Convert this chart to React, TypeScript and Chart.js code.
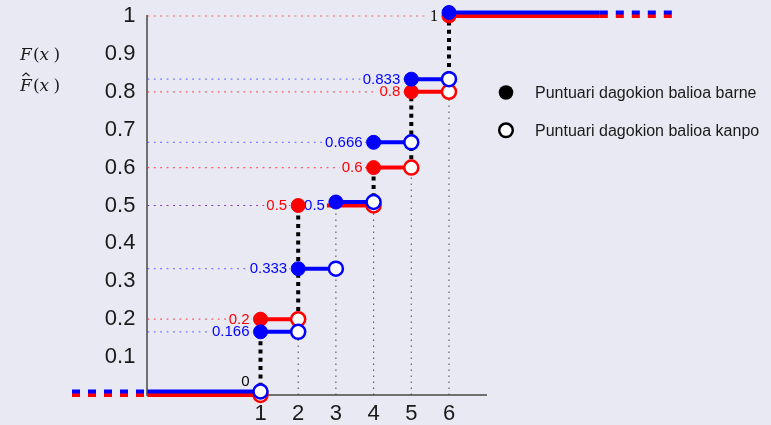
import React, { useEffect, useRef } from "react";
import { Chart, registerables } from "chart.js";

Chart.register(...registerables);

// ---------- data ----------
const xTicks = [1, 2, 3, 4, 5, 6];
const yTicks = [0.1, 0.2, 0.3, 0.4, 0.5, 0.6, 0.7, 0.8, 0.9, 1];

const redX = [1, 2, 4, 5, 6];
const redY = [0.2, 0.5, 0.6, 0.8, 1];
const redLabels = ["0.2", "0.5", "0.6", "0.8", "1"];

const blueX = [1, 2, 3, 4, 5, 6];
const blueY = [0.1667, 0.3333, 0.5, 0.6667, 0.8333, 1];
const blueLabels = ["0.166", "0.333", "0.5", "0.666", "0.833", "1"];

const startLabel = "0";
const legendLabels = ["Puntuari dagokion balioa barne", "Puntuari dagokion balioa kanpo"];
const fxParts = ["F", "(", "x", ")"];

const X_AXIS_MIN = -2;
const X_AXIS_MAX = 7;
const X_DASH_LEFT = -4;
const X_SOLID_RIGHT = 10;
const X_DASH_RIGHT = 12;

// ---------- style ----------
const BG = "rgb(233,233,243)";
const RED = "#ff0000";
const BLUE = "#0000ff";
const AXIS = "rgb(112,112,112)";
const TXT = "#1a1a1a";
const SANS = '"Liberation Sans", Arial, sans-serif';
const SERIF = '"Liberation Serif", "Times New Roman", serif';
const MATH = '"DejaVu Serif", serif';
const SHIFT = -3.5;

type Seg = [number, number, number, number];

const valAt = (xs: number[], ys: number[], x: number) => {
  let v = 0;
  xs.forEach((xx, i) => { if (xx <= x) v = ys[i]; });
  return v;
};
const leftAt = (xs: number[], ys: number[], x: number) => {
  let v = 0;
  xs.forEach((xx, i) => { if (xx < x) v = ys[i]; });
  return v;
};

function segsToData(segs: Seg[]) {
  const out: any[] = [];
  segs.slice().reverse().forEach((s, k) => {
    if (k > 0) out.push({ x: null, y: null });
    out.push({ x: s[0], y: s[1] }, { x: s[2], y: s[3] });
  });
  return out;
}

function stepSegs(xs: number[], ys: number[]): Seg[] {
  const segs: Seg[] = [[X_AXIS_MIN, 0, xs[0], 0]];
  for (let i = 0; i < xs.length; i++) {
    const xEnd = i < xs.length - 1 ? xs[i + 1] : X_SOLID_RIGHT;
    segs.push([xs[i], ys[i], xEnd, ys[i]]);
  }
  return segs;
}

function lineDs(label: string, segs: Seg[], color: string, width: number, dash: number[], yShift = 0) {
  return {
    label,
    data: segsToData(segs),
    borderColor: color,
    backgroundColor: color,
    borderWidth: width,
    borderDash: dash,
    borderCapStyle: "butt",
    pointRadius: 0,
    pointHoverRadius: 0,
    fill: false,
    tension: 0,
    spanGaps: false,
    showLine: true,
    clip: false,
    yShift,
  };
}

function markerDs(label: string, pts: { x: number; y: number }[], fill: string, stroke: string, bw: number, yShift = 0) {
  return {
    label,
    data: pts,
    showLine: false,
    pointRadius: 7,
    pointHoverRadius: 7,
    pointBackgroundColor: fill,
    pointBorderColor: stroke,
    pointBorderWidth: bw,
    backgroundColor: fill,
    borderColor: stroke,
    clip: false,
    yShift,
  };
}

export default function App() {
  const ref = useRef<HTMLCanvasElement | null>(null);

  useEffect(() => {
    const canvas = ref.current;
    if (!canvas) return;

    const redRef: Seg[] = redX.map((x, i) => [X_AXIS_MIN, redY[i], x, redY[i]]);
    const blueRef: Seg[] = blueX
      .map((x, i) => [X_AXIS_MIN, blueY[i], x, blueY[i]] as Seg)
      .filter((_, i) => i < blueX.length - 1);

    const allX = Array.from(new Set([...redX, ...blueX])).sort((a, b) => a - b).slice(1);
    const grayV: Seg[] = allX.map((x) => {
      const top = redX.includes(x)
        ? Math.min(leftAt(redX, redY, x), leftAt(blueX, blueY, x))
        : valAt(blueX, blueY, x);
      return [x, 0, x, top];
    });

    const blackV: Seg[] = redX.map((x, i) => [x, leftAt(redX, redY, x), x, redY[i]]);

    const redSolid = stepSegs(redX, redY);
    const redDash: Seg[] = [
      [X_DASH_LEFT, 0, X_AXIS_MIN, 0],
      [X_SOLID_RIGHT, redY[redY.length - 1], X_DASH_RIGHT, redY[redY.length - 1]],
    ];

    const blueAll = stepSegs(blueX, blueY);
    const overlaps = (s: Seg) => Math.abs(s[1] - valAt(redX, redY, (s[0] + s[2]) / 2)) < 1e-9;
    const blueSolidA = blueAll.filter((s) => !overlaps(s));
    const blueSolidB = blueAll.filter((s) => overlaps(s));
    const blueDash: Seg[] = [
      [X_DASH_LEFT, 0, X_AXIS_MIN, 0],
      [X_SOLID_RIGHT, blueY[blueY.length - 1], X_DASH_RIGHT, blueY[blueY.length - 1]],
    ];

    const redFilled = redX.map((x, i) => ({ x, y: redY[i] }));
    const redOpen = redX.map((x) => ({ x, y: leftAt(redX, redY, x) }));

    const bFilledA: any[] = [], bFilledB: any[] = [], bOpenA: any[] = [], bOpenB: any[] = [];
    blueX.forEach((x, i) => {
      const nx = i < blueX.length - 1 ? blueX[i + 1] : X_SOLID_RIGHT;
      const px = i > 0 ? blueX[i - 1] : X_AXIS_MIN;
      const fy = blueY[i];
      const oy = leftAt(blueX, blueY, x);
      const fShift = Math.abs(fy - valAt(redX, redY, (x + nx) / 2)) < 1e-9;
      const oShift = Math.abs(oy - valAt(redX, redY, (x + px) / 2)) < 1e-9;
      (fShift ? bFilledB : bFilledA).push({ x, y: fy });
      (oShift ? bOpenB : bOpenA).push({ x, y: oy });
    });

    const drawSeq: any[] = [
      lineDs("redRef", redRef, "rgba(255,40,40,0.75)", 1.2, [1.8, 4.6]),
      lineDs("blueRef", blueRef, "rgba(40,40,255,0.6)", 1.2, [1.8, 4.6]),
      lineDs("grayV", grayV, "rgba(70,70,70,0.9)", 1.1, [1.5, 4.5]),
      lineDs("blackV", blackV, "#000000", 4, [4, 4.3]),
      lineDs("redSolid", redSolid, RED, 4, []),
      lineDs("redDash", redDash, RED, 4, [8, 8]),
      lineDs("blueSolidA", blueSolidA, BLUE, 4, []),
      lineDs("blueSolidB", blueSolidB, BLUE, 4, [], SHIFT),
      lineDs("blueDash", blueDash, BLUE, 4, [8, 8], SHIFT),
      markerDs("redFilled", redFilled, RED, RED, 1),
      markerDs("redOpen", redOpen, "#ffffff", RED, 2.5),
      markerDs("blueFilledA", bFilledA, BLUE, BLUE, 1),
      markerDs("blueFilledB", bFilledB, BLUE, BLUE, 1, SHIFT),
      markerDs("blueOpenA", bOpenA, "#ffffff", BLUE, 2.5),
      markerDs("blueOpenB", bOpenB, "#ffffff", BLUE, 2.5, SHIFT),
    ];
    const N = drawSeq.length;
    drawSeq.forEach((d, i) => { d.order = N - i; });
    const labelAfterIndex = drawSeq.findIndex((d) => d.label === "blueDash");

    const drawLabels = (chart: any) => {
      const ctx = chart.ctx as CanvasRenderingContext2D;
      const sx = chart.scales.x, sy = chart.scales.y;
      const put = (text: string, x: number, y: number, color: string, font: string, dy = 0) => {
        ctx.save();
        ctx.font = font;
        const w = ctx.measureText(text).width;
        const rx = sx.getPixelForValue(x) - 11;
        const cy = sy.getPixelForValue(y) + dy;
        ctx.fillStyle = BG;
        ctx.fillRect(rx - w - 2, cy - 7, w + 4, 14);
        ctx.fillStyle = color;
        ctx.textAlign = "right";
        ctx.textBaseline = "middle";
        ctx.fillText(text, rx, cy + 0.5);
        ctx.restore();
      };
      const f = `15px ${SANS}`;
      redX.forEach((x, i) => {
        if (i === redX.length - 1) put(redLabels[i], x, redY[i], "#000", `16px ${SERIF}`);
        else put(redLabels[i], x, redY[i], RED, f);
      });
      blueX.forEach((x, i) => {
        if (i < blueX.length - 1) put(blueLabels[i], x, blueY[i], BLUE, f);
      });
      put(startLabel, redX[0], 0, "#000", f, -13.5);
    };

    const bgPlugin = {
      id: "bg",
      beforeDraw(chart: any) {
        const ctx = chart.ctx;
        ctx.save();
        ctx.fillStyle = BG;
        ctx.fillRect(0, 0, chart.width, chart.height);
        ctx.restore();
      },
    };

    const shiftPlugin = {
      id: "shiftAndLabels",
      beforeDatasetDraw(chart: any, args: any) {
        const ds: any = chart.data.datasets[args.index];
        chart.ctx.save();
        if (ds.yShift) chart.ctx.translate(0, ds.yShift);
      },
      afterDatasetDraw(chart: any, args: any) {
        chart.ctx.restore();
        if (args.index === labelAfterIndex) drawLabels(chart);
      },
    };

    const decorPlugin = {
      id: "decor",
      afterDraw(chart: any) {
        const ctx = chart.ctx as CanvasRenderingContext2D;
        ctx.save();
        const drawFx = (base: number, hat: boolean) => {
          ctx.fillStyle = TXT;
          ctx.textAlign = "left";
          ctx.textBaseline = "alphabetic";
          const xs = [20, 33, 39.5, 53.5];
          fxParts.forEach((p, i) => {
            const italic = p === "F" || p === "x";
            ctx.font = `${italic ? "italic " : ""}17px ${MATH}`;
            ctx.fillText(p, xs[i], base);
          });
          if (hat) {
            ctx.strokeStyle = TXT;
            ctx.lineWidth = 1.1;
            ctx.beginPath();
            ctx.moveTo(22.5, base - 14.5);
            ctx.lineTo(26, base - 17.5);
            ctx.lineTo(29.5, base - 14.5);
            ctx.stroke();
          }
        };
        drawFx(60, false);
        drawFx(90.5, true);

        const lx = 506, ly = [92.5, 130.3];
        ctx.fillStyle = "#000";
        ctx.beginPath();
        ctx.arc(lx, ly[0], 7.3, 0, Math.PI * 2);
        ctx.fill();
        ctx.fillStyle = "#fff";
        ctx.strokeStyle = "#000";
        ctx.lineWidth = 2.5;
        ctx.beginPath();
        ctx.arc(lx, ly[1], 6.8, 0, Math.PI * 2);
        ctx.fill();
        ctx.stroke();
        ctx.fillStyle = TXT;
        ctx.font = `16px ${SANS}`;
        ctx.textAlign = "left";
        ctx.textBaseline = "alphabetic";
        ctx.fillText(legendLabels[0], 535, ly[0] + 5.5);
        ctx.fillText(legendLabels[1], 535, ly[1] + 5.5);
        ctx.restore();
      },
    };

    const tickFont = { family: SANS, size: 22 };

    const chart = new Chart(canvas, {
      type: "line",
      data: { datasets: drawSeq },
      options: {
        animation: false,
        responsive: false,
        events: [],
        layout: { padding: { top: 16, right: 284.3, left: 0, bottom: 0 } },
        plugins: { legend: { display: false }, tooltip: { enabled: false }, title: { display: false } },
        scales: {
          x: {
            type: "linear",
            min: X_AXIS_MIN,
            max: X_AXIS_MAX,
            afterFit: (s: any) => { s.height = 30; s.paddingLeft = 0; s.paddingRight = 0; },
            afterBuildTicks: (s: any) => { s.ticks = xTicks.map((v) => ({ value: v })); },
            grid: { display: true, color: "rgba(0,0,0,0)", drawTicks: false },
            border: { display: true, color: AXIS, width: 2 },
            ticks: { font: tickFont, color: TXT, padding: 6, autoSkip: false, maxRotation: 0, callback: (v: any) => String(v) },
          },
          y: {
            type: "linear",
            min: 0,
            max: 1,
            afterFit: (s: any) => { s.width = 147.4; s.paddingTop = 0; s.paddingBottom = 0; },
            afterBuildTicks: (s: any) => { s.ticks = yTicks.map((v) => ({ value: v })); },
            grid: { display: true, color: "rgba(0,0,0,0)", drawTicks: false },
            border: { display: true, color: AXIS, width: 2 },
            ticks: { font: tickFont, color: TXT, padding: 12, autoSkip: false, callback: (v: any) => String(v) },
          },
        },
      } as any,
      plugins: [bgPlugin, shiftPlugin, decorPlugin],
    });

    return () => chart.destroy();
  }, []);

  return (
    <div style={{ position: "absolute", left: 0, top: 0, width: 771, height: 425, background: BG }}>
      <canvas ref={ref} width={771} height={425} style={{ display: "block", width: 771, height: 425 }} />
    </div>
  );
}
